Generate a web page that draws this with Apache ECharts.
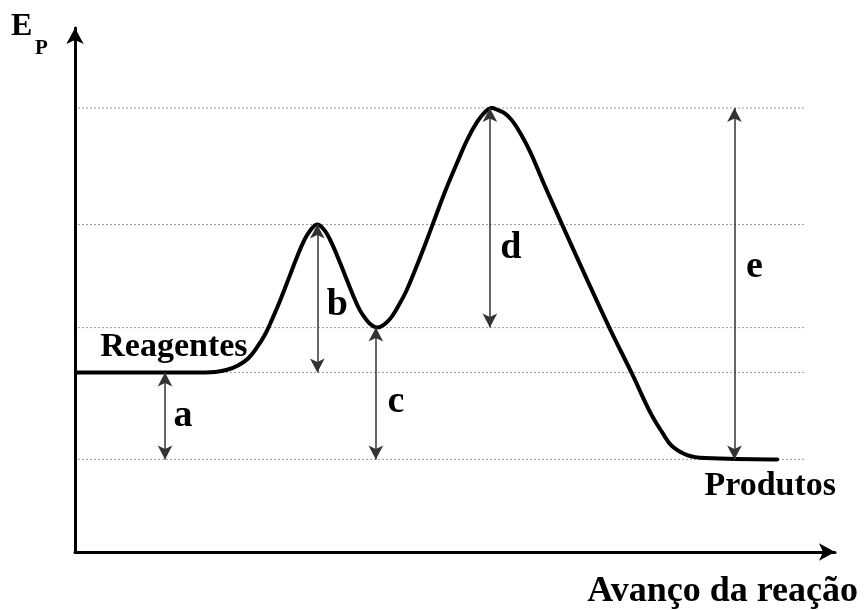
<!DOCTYPE html>
<html>
<head>
<meta charset="utf-8">
<title>Energia potencial x avanço da reação</title>
<script src="https://cdn.jsdelivr.net/npm/echarts@6/dist/echarts.min.js"></script>
<style>
  html, body { margin: 0; padding: 0; background: #fff; }
  #chart { width: 864px; height: 610px; }
</style>
</head>
<body>
<div id="chart"></div>
<script>
// perfil de energia: x = avanço da reação, y = Ep (unidades arbitrárias)
var curveX = [0.3, 17.07, 18.67, 20.27, 21.73, 23.07, 24.27, 25.33, 26.27, 27.33,
              28.53, 29.6, 30.53, 31.33, 32.27, 33.2, 34.0, 34.93, 36.0, 37.07,
              38.0, 38.93, 39.6, 40.27, 41.2, 42.13, 43.07, 44.13, 45.2, 46.4,
              47.6, 49.33, 50.93, 52.27, 53.6, 54.67, 55.47, 56.4, 57.33, 58.27,
              59.33, 60.67, 62.67, 64.93, 68.13, 71.33, 74.27, 76.67, 78.27, 79.6,
              81.6, 84.0, 93.6];
var curveY = [4.13, 4.13, 4.14, 4.19, 4.29, 4.45, 4.71, 5.00, 5.35, 5.78,
              6.31, 6.79, 7.16, 7.39, 7.53, 7.41, 7.18, 6.82, 6.36, 5.90,
              5.55, 5.32, 5.21, 5.16, 5.23, 5.39, 5.65, 5.99, 6.43, 6.95,
              7.50, 8.29, 8.95, 9.48, 9.89, 10.12, 10.21, 10.16, 10.08, 9.92,
              9.64, 9.20, 8.40, 7.53, 6.31, 5.12, 4.09, 3.21, 2.75, 2.43,
              2.23, 2.16, 2.13];

// níveis pontilhados
var levels = [10.21, 7.53, 5.16, 4.13, 2.13];

// setas de duas pontas
var arrowNames = ['a', 'b', 'c', 'd', 'e'];
var arrowX = [12.0, 32.3, 40.1, 55.3, 87.9];
var arrowTop = [4.13, 7.53, 5.16, 10.21, 10.21];
var arrowBottom = [2.13, 4.13, 2.13, 5.16, 2.13];

var stateNames = ['Reagentes', 'Produtos'];
var axisNameX = 'Avanço da reação';

var serif = "'Liberation Serif', 'Times New Roman', serif";
var chart = echarts.init(document.getElementById('chart'));

var curveData = curveX.map(function (x, i) { return [x, curveY[i]]; });

// linhas pontilhadas
var levelSeries = levels.map(function (l) {
  return {
    type: 'line',
    silent: true,
    showSymbol: false,
    data: [[0.4, l], [97.3, l]],
    lineStyle: { color: '#9a9a9a', width: 1, type: [2, 2] },
    z: 1
  };
});

// deslocamento (px) de cada letra em relação ao meio da seta
var letterOffset = [[18, 0], [20, 7], [20, 9], [21, 30], [20, -17]];
var textData = arrowNames.map(function (n, i) {
  return {
    name: n,
    value: [arrowX[i], (arrowTop[i] + arrowBottom[i]) / 2],
    label: { offset: letterOffset[i], fontSize: 38 }
  };
});
textData.push({
  name: stateNames[0],
  value: curveData[0],
  label: { align: 'left', offset: [23, -25] }
});
textData.push({
  name: stateNames[1],
  value: curveData[curveData.length - 1],
  label: { offset: [-7, 27] }
});

var option = {
  animation: false,
  backgroundColor: '#fff',
  grid: { left: 75, right: 29, top: 28, bottom: 57 },
  xAxis: {
    type: 'value',
    min: 0,
    max: 101.3,
    name: axisNameX,
    nameLocation: 'end',
    nameGap: 23,
    nameTextStyle: {
      fontFamily: serif, fontWeight: 'bold', fontSize: 36, color: '#000',
      align: 'right', verticalAlign: 'top', padding: [22, 0, 0, 0]
    },
    axisLine: {
      show: true, symbol: ['none', 'arrow'], symbolSize: [13, 16],
      lineStyle: { color: '#000', width: 3 }
    },
    axisTick: { show: false },
    axisLabel: { show: false },
    splitLine: { show: false }
  },
  yAxis: {
    type: 'value',
    min: 0,
    max: 12.05,
    axisLine: {
      show: true, symbol: ['none', 'arrow'], symbolSize: [13, 16],
      lineStyle: { color: '#000', width: 3 }
    },
    axisTick: { show: false },
    axisLabel: { show: false },
    splitLine: { show: false }
  },
  graphic: [
    { type: 'text', left: 11, top: 11, style: { text: 'E', font: 'bold 32px ' + serif, fill: '#000' } },
    { type: 'text', left: 35, top: 38, style: { text: 'P', font: 'bold 21px ' + serif, fill: '#000' } }
  ],
  series: levelSeries.concat([
    {
      // curva desenhada como uma polyline suave sobre as coordenadas do eixo
      name: 'Ep',
      type: 'custom',
      silent: true,
      data: curveData,
      encode: { x: 0, y: 1 },
      renderItem: function (params, api) {
        if (params.dataIndex !== 0) return;
        var pts = curveData.map(function (d) { return api.coord(d); });
        return {
          type: 'polyline',
          shape: { points: pts, smooth: 0.4 },
          style: { stroke: '#000', lineWidth: 4, fill: null, lineJoin: 'round', lineCap: 'round' }
        };
      },
      z: 3
    },
    {
      type: 'line',
      data: [],
      silent: true,
      markLine: {
        silent: true,
        symbol: ['arrow', 'arrow'],
        symbolSize: [11, 14],
        label: { show: false },
        lineStyle: { color: '#333', width: 1.5, type: 'solid' },
        emphasis: { disabled: true },
        data: arrowX.map(function (x, i) {
          return [{ coord: [x, arrowTop[i]] }, { coord: [x, arrowBottom[i]] }];
        })
      },
      z: 2
    },
    {
      type: 'scatter',
      symbolSize: 0,
      silent: true,
      data: textData,
      itemStyle: { opacity: 1 },
      label: {
        show: true,
        position: 'inside',
        formatter: '{b}',
        fontFamily: serif,
        fontWeight: 'bold',
        fontSize: 34,
        color: '#000',
        opacity: 1
      },
      z: 4
    }
  ])
};

chart.setOption(option);
</script>
</body>
</html>
